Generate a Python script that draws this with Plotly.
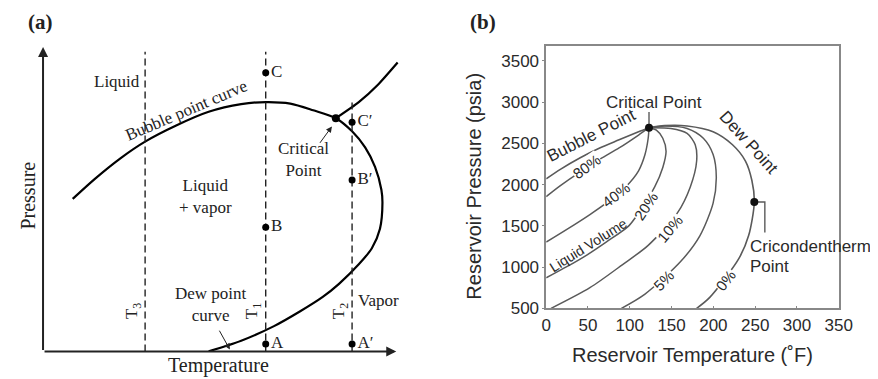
import plotly.graph_objects as go

W, H = 878, 379

# ---------------- Panel (a): schematic phase envelope (arbitrary units) ----------------
env_T = [8.4, 14.6, 22.0, 28.9, 37.7, 46.9, 56.1, 63.1, 70.0, 76.5, 82.9, 87.5, 91.2,
         94.0, 95.8, 96.1, 95.4, 93.1, 89.4, 83.8, 79.2, 72.7, 65.4, 56.1, 46.9]
env_P = [50.1, 56.6, 63.5, 68.9, 74.2, 78.7, 81.2, 81.9, 81.4, 79.2, 76.6, 72.3, 67.0,
         60.6, 53.1, 48.8, 40.3, 33.9, 28.6, 22.2, 17.9, 13.1, 8.3, 3.5, 0.0]
ext_T = [82.9, 89.4, 94.9, 100.4]
ext_P = [76.6, 81.9, 87.7, 94.9]
iso_names = ["T<sub>3</sub>", "T<sub>1</sub>", "T<sub>2</sub>"]
iso_T = [28.9, 63.05, 87.5]
iso_top = [98.4, 98.4, 81.9]
pt_labels = ["C", "B", "A", "C′", "B′", "A′"]
pt_T = [63.05, 63.05, 63.05, 87.5, 87.5, 87.5]
pt_P = [91.5, 40.8, 2.46, 75.3, 56.3, 2.46]
crit_a_T = [82.9]
crit_a_P = [76.6]

# ---------------- Panel (b): reservoir phase diagram ----------------
bubble_T = [0, 17.4, 40.7, 64, 87.2, 110.5, 123]
bubble_P = [2070, 2188, 2326, 2444, 2543, 2641, 2690]
q80_T = [0, 17.4, 64, 87.2, 110.5, 123]
q80_P = [1854, 1991, 2306, 2444, 2601, 2690]
q40_T = [0, 25.2, 52.3, 71.7, 95, 110.5, 118.2, 122, 123]
q40_P = [1303, 1460, 1637, 1775, 1972, 2168, 2365, 2562, 2690]
q20_T = [0, 25.2, 48.5, 71.7, 98.8, 110.5, 129.8, 139.5, 143.4, 139.5, 131.8, 123]
q20_P = [870, 1008, 1146, 1303, 1500, 1657, 1972, 2208, 2405, 2562, 2661, 2690]
q10_T = [5.8, 52.3, 91, 122, 157, 172.4, 180, 178.3, 168.6, 149.2, 123]
q10_P = [500, 751, 1028, 1264, 1657, 1972, 2286, 2483, 2621, 2681, 2690]
q5_T = [90, 118.2, 160.8, 184, 199.7, 203.5, 199.7, 188, 168.6, 141.5, 123]
q5_P = [500, 673, 1067, 1382, 1775, 2090, 2365, 2562, 2681, 2711, 2690]
dew_T = [180, 195.7, 230.6, 242.2, 249, 246.1, 238.4, 222.9, 199.7, 168.6, 141.5, 123]
dew_P = [500, 633, 1106, 1382, 1790, 2050, 2286, 2483, 2641, 2711, 2715, 2690]
crit_b = (123, 2690)
crit_tick_top = 2880
cric = (249, 1790)
cric_bracket_T = [249, 261.6, 261.6]
cric_bracket_P = [1790, 1790, 1421]
xticks_b = [0, 50, 100, 150, 200, 250, 300, 350]
yticks_b = [500, 1000, 1500, 2000, 2500, 3000, 3500]

SERIF = "Liberation Serif, Times New Roman, serif"
SANS = "Liberation Sans, Arial, sans-serif"
GREY = "#5a5a5a"
TXT_B = "#2a2a2a"


def px(x, y):
    return x / W, 1 - y / H


fig = go.Figure()

# --- panel (a) traces
fig.add_trace(go.Scatter(x=env_T, y=env_P, mode="lines", line=dict(color="black", width=2.2, shape="spline", smoothing=0.8),
                         xaxis="x", yaxis="y", hoverinfo="skip"))
fig.add_trace(go.Scatter(x=ext_T, y=ext_P, mode="lines", line=dict(color="black", width=2.2, shape="spline", smoothing=0.6),
                         xaxis="x", yaxis="y", hoverinfo="skip"))
for t, top in zip(iso_T, iso_top):
    fig.add_trace(go.Scatter(x=[t, t], y=[0, top], mode="lines", line=dict(color="#222", width=1.4, dash="7px,4px"),
                             xaxis="x", yaxis="y", hoverinfo="skip"))
fig.add_trace(go.Scatter(x=pt_T, y=pt_P, mode="markers+text", text=pt_labels, textposition="middle right",
                         textfont=dict(family=SERIF, size=17, color="#222"),
                         marker=dict(color="black", size=7), cliponaxis=False, xaxis="x", yaxis="y", hoverinfo="skip"))
fig.add_trace(go.Scatter(x=crit_a_T, y=crit_a_P, mode="markers", marker=dict(color="black", size=8),
                         xaxis="x", yaxis="y", hoverinfo="skip"))

# --- panel (b) traces
for xs, ys, w in [(bubble_T, bubble_P, 1.6), (q80_T, q80_P, 1.5), (q40_T, q40_P, 1.5), (q20_T, q20_P, 1.5),
                  (q10_T, q10_P, 1.5), (q5_T, q5_P, 1.5), (dew_T, dew_P, 1.6)]:
    fig.add_trace(go.Scatter(x=xs, y=ys, mode="lines", line=dict(color=GREY, width=w, shape="spline", smoothing=0.8),
                             xaxis="x2", yaxis="y2", hoverinfo="skip"))
fig.add_trace(go.Scatter(x=[crit_b[0], crit_b[0]], y=[crit_b[1], crit_tick_top], mode="lines",
                         line=dict(color=GREY, width=1.4), xaxis="x2", yaxis="y2", hoverinfo="skip"))
fig.add_trace(go.Scatter(x=cric_bracket_T, y=cric_bracket_P, mode="lines",
                         line=dict(color=GREY, width=1.4), xaxis="x2", yaxis="y2", hoverinfo="skip"))
fig.add_trace(go.Scatter(x=[crit_b[0], cric[0]], y=[crit_b[1], cric[1]], mode="markers",
                         marker=dict(color="#111", size=8), xaxis="x2", yaxis="y2", hoverinfo="skip"))

ann = []


def arrow(head, tail, width, size):
    ann.append(dict(x=head[0], y=head[1], ax=tail[0], ay=tail[1], xref="x", yref="y", axref="x", ayref="y",
                    text="", showarrow=True, arrowhead=2, arrowsize=size, arrowwidth=width, arrowcolor="#222"))


# panel (a) axes with arrowheads and pointer arrows
arrow((0, 100), (0, 0), 2, 1)
arrow((100, 0), (0, 0), 2, 1)
arrow((81.8, 73.9), (78.1, 68.0), 1, 1.2)
arrow((52.9, 0.6), (49.7, 7.3), 1, 1.2)


def text_px(x, y, t, size=17, font=SERIF, angle=0, color="#222", bg=None, align="center", xanchor="center"):
    xp, yp = px(x, y)
    d = dict(x=xp, y=yp, xref="paper", yref="paper", text=t, showarrow=False, textangle=angle,
             font=dict(family=font, size=size, color=color), align=align, xanchor=xanchor, yanchor="middle")
    if bg:
        d.update(bgcolor=bg, borderpad=0)
    ann.append(d)


text_px(28, 14, "<b>(a)</b>", size=21)
text_px(480, 14, "<b>(b)</b>", size=21)
text_px(15, 193, "Pressure", size=20, angle=-90)
text_px(210, 366.7, "Temperature", size=20)
text_px(106.7, 76, "Liquid")
text_px(177, 105, "Bubble point curve", angle=-23)
text_px(296.7, 155.8, "Critical<br>Point")
text_px(197, 194, "Liquid<br>+ vapor")
text_px(202.5, 305, "Dew point<br>curve")
text_px(373.3, 300.7, "Vapor")
for name, xx in zip(iso_names, [123.3, 246, 335]):
    text_px(xx, 311.7, name, angle=-90)

# panel (b) texts
text_px(471.7, 183, "Reservoir Pressure (psia)", size=20, font=SANS, angle=-90, color=TXT_B)
text_px(695, 356.7, "Reservoir Temperature (˚F)", size=20, font=SANS, color=TXT_B)
text_px(655, 97, "Critical Point", size=17, font=SANS, color=TXT_B)
text_px(591, 131, "Bubble Point", size=17, font=SANS, angle=-27, color=TXT_B)
text_px(752, 138, "Dew Point", size=17, font=SANS, angle=48, color=TXT_B)
text_px(751, 245, "Cricondentherm", size=17, font=SANS, color=TXT_B, xanchor="left")
text_px(751, 265, "Point", size=17, font=SANS, color=TXT_B, xanchor="left")
text_px(588, 243, "Liquid Volume", size=14, font=SANS, angle=-32, color=TXT_B)
for lbl, xx, yy, ang in [("80%", 586.7, 163.3, -36), ("40%", 616.7, 191.7, -37), ("20%", 647.5, 203.3, -57),
                         ("10%", 671.7, 226.7, -50), ("5%", 665, 280, -45), ("0%", 728.3, 280, -52)]:
    text_px(xx, yy, lbl, size=15, font=SANS, angle=ang, color=TXT_B, bg="white")

fig.update_layout(
    width=W, height=H, margin=dict(l=0, r=0, t=0, b=0), paper_bgcolor="white", plot_bgcolor="rgba(0,0,0,0)",
    showlegend=False, annotations=ann,
    xaxis=dict(domain=[30.7 / W, 400 / W], range=[0, 102.3], visible=False, fixedrange=True),
    yaxis=dict(domain=[1 - 352.7 / H, 1 - 20 / H], range=[0, 106.4], visible=False, fixedrange=True),
    xaxis2=dict(domain=[545 / W, 844 / W], range=[0, 350], anchor="y2", tickvals=xticks_b, showgrid=False,
                zeroline=False, showline=True, mirror=True, linecolor="#888", linewidth=1.5,
                ticks="inside", ticklen=3, tickcolor="#888",
                tickfont=dict(family=SANS, size=17, color=TXT_B)),
    yaxis2=dict(domain=[1 - 308.5 / H, 1 - 39.3 / H], range=[500, 3677], anchor="x2", tickvals=yticks_b,
                showgrid=False, zeroline=False, showline=True, mirror=True, linecolor="#888", linewidth=1.5,
                ticks="outside", ticklen=2, tickcolor="#888",
                tickfont=dict(family=SANS, size=17, color=TXT_B)),
)

fig.write_html("out.html")
